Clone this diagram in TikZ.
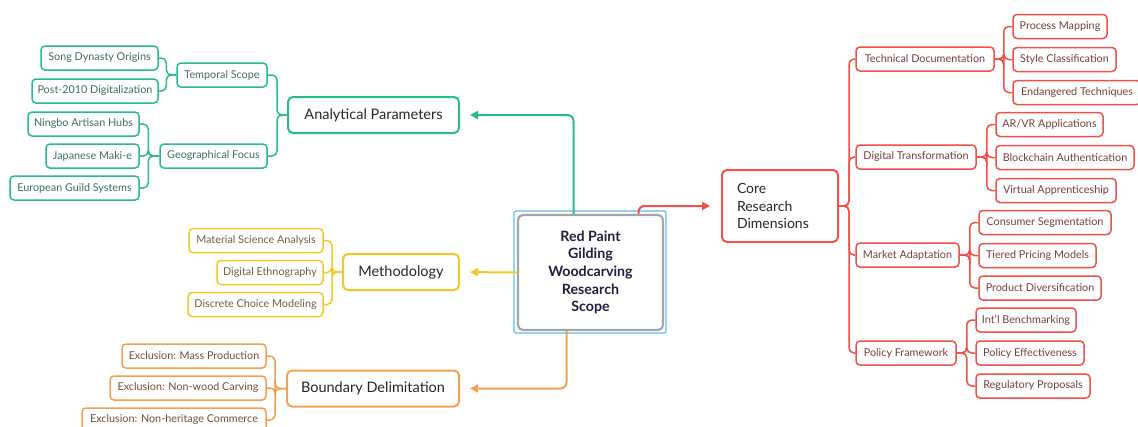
\documentclass[tikz,border=0pt]{standalone}
\usepackage{fontspec}
\setmainfont{Lato}
\usetikzlibrary{arrows.meta}

\definecolor{grn}{RGB}{38,190,130}
\definecolor{grntxt}{RGB}{62,110,94}
\definecolor{ylw}{RGB}{242,200,40}
\definecolor{ylwtxt}{RGB}{110,98,62}
\definecolor{org}{RGB}{245,160,80}
\definecolor{orgtxt}{RGB}{110,80,62}
\definecolor{rd}{RGB}{240,80,70}
\definecolor{rdtxt}{RGB}{118,62,62}
\definecolor{ink}{RGB}{38,38,44}
\definecolor{navy}{RGB}{30,32,62}
\definecolor{sel}{RGB}{95,190,240}
\definecolor{rootline}{RGB}{165,165,165}

\tikzset{
  leaf/.style={draw, rounded corners=4pt, line width=1.5pt, minimum height=24pt,
    inner sep=0pt, fill=white, font=\fontsize{10.8}{12}\selectfont},
  branch/.style={draw, rounded corners=5pt, line width=2pt, minimum height=36pt,
    inner sep=0pt, fill=white, text=ink, font=\fontsize{14.5}{16}\selectfont},
  link/.style={line width=1.5pt, rounded corners=5pt},
  mainlink/.style={line width=2pt, rounded corners=6pt,
    -{Triangle[length=8pt,width=8pt]}, shorten >=10pt},
}

\begin{document}
\begin{tikzpicture}[x=1pt,y=-1pt]
\useasboundingbox[fill=white] (0,0) rectangle (1138,426);

% central topic
\node[draw=sel, line width=1.2pt, rounded corners=2pt, minimum width=152pt, minimum height=122pt] (rootsel) at (590,272) {};
\node[draw=rootline, line width=2.2pt, rounded corners=5pt, minimum width=145pt, minimum height=115pt,
  align=center, text=navy, font=\bfseries\fontsize{14.2}{17.7}\selectfont] (root) at (590.5,272.5)
  {Red Paint\\Gilding\\Woodcarving\\Research\\Scope};

% ---------- Analytical Parameters (green) ----------
\node[branch, draw=grn, minimum width=171pt] (ap) at (373.5,115) {Analytical Parameters};
\node[leaf, draw=grn, text=grntxt, minimum width=90pt] (temp) at (222,75) {Temporal Scope};
\node[leaf, draw=grn, text=grntxt, minimum width=107pt] (geo) at (213.5,156) {Geographical Focus};
\node[leaf, draw=grn, text=grntxt, minimum width=117pt] (song) at (99.5,58) {Song Dynasty Origins};
\node[leaf, draw=grn, text=grntxt, minimum width=126pt] (post) at (95,91) {Post-2010 Digitalization};
\node[leaf, draw=grn, text=grntxt, minimum width=111pt] (ningbo) at (83.5,124) {Ningbo Artisan Hubs};
\node[leaf, draw=grn, text=grntxt, minimum width=93pt] (maki) at (92.5,156) {Japanese Maki-e};
\node[leaf, draw=grn, text=grntxt, minimum width=129pt] (guild) at (74.5,188) {European Guild Systems};

\draw[mainlink, grn] ([xshift=-17pt]root.north) |- (ap.east);
\foreach \c in {temp,geo} \draw[link, grn] (ap.west) -- ([xshift=-10pt]ap.west) |- (\c.east);
\foreach \c in {song,post} \draw[link, grn] (temp.west) -- ([xshift=-10pt]temp.west) |- (\c.east);
\foreach \c in {ningbo,maki,guild} \draw[link, grn] (geo.west) -- ([xshift=-11pt]geo.west) |- (\c.east);

% ---------- Methodology (yellow) ----------
\node[branch, draw=ylw, minimum width=116pt] (meth) at (401,272) {Methodology};
\node[leaf, draw=ylw, text=ylwtxt, minimum width=134pt] (mat) at (256,240.5) {Material Science Analysis};
\node[leaf, draw=ylw, text=ylwtxt, minimum width=106pt] (eth) at (270,272.5) {Digital Ethnography};
\node[leaf, draw=ylw, text=ylwtxt, minimum width=135pt] (dcm) at (255.5,304.5) {Discrete Choice Modeling};

\draw[mainlink, ylw] (root.west) -- (meth.east);
\foreach \c in {mat,eth,dcm} \draw[link, ylw] (meth.west) -- ([xshift=-10pt]meth.west) |- (\c.east);

% ---------- Boundary Delimitation (orange) ----------
\node[branch, draw=org, minimum width=172pt] (bd) at (373,388.5) {Boundary Delimitation};
\node[leaf, draw=org, text=orgtxt, minimum width=144pt] (mass) at (194,356) {Exclusion: Mass Production};
\node[leaf, draw=org, text=orgtxt, minimum width=156pt] (wood) at (188,388) {Exclusion: Non-wood Carving};
\node[leaf, draw=org, text=orgtxt, minimum width=184pt] (herit) at (174,420) {Exclusion: Non-heritage Commerce};

\draw[mainlink, org] ([xshift=-24pt]root.south) |- (bd.east);
\foreach \c in {mass,wood,herit} \draw[link, org] (bd.west) -- ([xshift=-11pt]bd.west) |- (\c.east);

% ---------- Core Research Dimensions (red) ----------
\node[draw=rd, line width=2pt, rounded corners=5pt, fill=white, minimum height=72pt,
  text width=86pt, inner xsep=15pt, inner ysep=0pt, align=left, text=ink,
  font=\fontsize{14}{17.5}\selectfont] (core) at (780,206) {Core\\Research\\Dimensions};

\node[leaf, draw=rd, text=rdtxt, minimum width=138pt] (tech) at (925,59) {Technical Documentation};
\node[leaf, draw=rd, text=rdtxt, minimum width=120pt] (dig) at (916,157) {Digital Transformation};
\node[leaf, draw=rd, text=rdtxt, minimum width=103pt] (mkt) at (907.5,255) {Market Adaptation};
\node[leaf, draw=rd, text=rdtxt, minimum width=100pt] (pol) at (906,353) {Policy Framework};

\node[leaf, draw=rd, text=rdtxt, minimum width=94pt] (pm) at (1060,26.5) {Process Mapping};
\node[leaf, draw=rd, text=rdtxt, minimum width=103pt] (sc) at (1064.5,59.5) {Style Classification};
\node[leaf, draw=rd, text=rdtxt, minimum width=128pt] (et) at (1077,92.5) {Endangered Techniques};

\node[leaf, draw=rd, text=rdtxt, minimum width=107pt] (arvr) at (1049.5,124.5) {AR/VR Applications};
\node[leaf, draw=rd, text=rdtxt, minimum width=138pt] (bca) at (1065,157.5) {Blockchain Authentication};
\node[leaf, draw=rd, text=rdtxt, minimum width=120pt] (va) at (1056,190.5) {Virtual Apprenticeship};

\node[leaf, draw=rd, text=rdtxt, minimum width=132pt] (cs) at (1045,222.5) {Consumer Segmentation};
\node[leaf, draw=rd, text=rdtxt, minimum width=117pt] (tpm) at (1037.5,255.5) {Tiered Pricing Models};
\node[leaf, draw=rd, text=rdtxt, minimum width=122pt] (pd) at (1040,288) {Product Diversification};

\node[leaf, draw=rd, text=rdtxt, minimum width=100pt] (ib) at (1026,320) {Int'l Benchmarking};
\node[leaf, draw=rd, text=rdtxt, minimum width=108pt] (pe) at (1030,353) {Policy Effectiveness};
\node[leaf, draw=rd, text=rdtxt, minimum width=114pt] (rp) at (1033,386) {Regulatory Proposals};

\draw[mainlink, rd, shorten >=11pt] ([xshift=48pt]root.north) |- (core.west);
\foreach \c in {tech,dig,mkt,pol} \draw[link, rd] (core.east) -- ([xshift=10pt]core.east) |- (\c.west);
\foreach \c in {pm,sc,et} \draw[link, rd] (tech.east) -- ([xshift=9pt]tech.east) |- (\c.west);
\foreach \c in {arvr,bca,va} \draw[link, rd] (dig.east) -- ([xshift=10pt]dig.east) |- (\c.west);
\foreach \c in {cs,tpm,pd} \draw[link, rd] (mkt.east) -- ([xshift=10pt]mkt.east) |- (\c.west);
\foreach \c in {ib,pe,rp} \draw[link, rd] (pol.east) -- ([xshift=10pt]pol.east) |- (\c.west);
\end{tikzpicture}
\end{document}
